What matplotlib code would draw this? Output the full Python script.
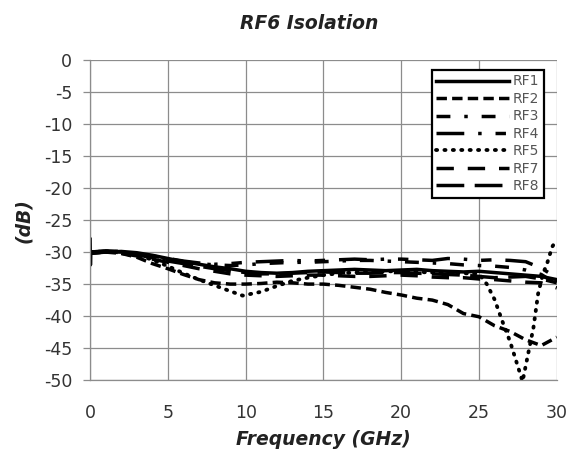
import matplotlib.pyplot as plt

freq = [0, 1, 2, 3, 4, 5, 6, 7, 8, 9, 10, 11, 12, 13, 14, 15,
        16, 17, 18, 19, 20, 21, 22, 23, 24, 25, 26, 27, 28, 29, 30]

# RF1 has a short spike at the very first points
freq_rf1 = [0, 0.02, 0.04] + freq[1:]
rf1 = [-28.0, -32.0, -30.2, -30.0, -29.9, -30.1, -30.5, -31.0, -31.5, -31.9, -32.3, -32.6,
       -33.0, -33.2, -33.3, -33.2, -33.0, -32.9, -32.8, -32.7, -32.8, -32.9, -32.8,
       -32.7, -32.9, -33.0, -33.1, -33.0, -33.2, -33.4, -33.6, -33.8, -34.3]
rf2 = [-30.2, -30.0, -30.2, -30.8, -31.8, -32.6, -33.5, -34.3, -34.8, -35.0, -35.0,
       -34.9, -34.7, -34.8, -35.0, -35.0, -35.2, -35.5, -35.8, -36.3, -36.7, -37.2,
       -37.5, -38.2, -39.6, -40.1, -41.5, -42.4, -43.7, -44.6, -43.3]
rf3 = [-30.0, -29.9, -30.0, -30.3, -30.7, -31.1, -31.5, -31.8, -32.0, -32.1, -32.0,
       -31.8, -31.7, -31.6, -31.6, -31.5, -31.4, -31.3, -31.3, -31.4, -31.5, -31.6,
       -31.7, -31.8, -32.0, -32.1, -32.2, -32.4, -32.8, -33.5, -35.0]
rf4 = [-30.0, -29.8, -29.9, -30.2, -30.6, -31.0, -31.4, -31.7, -31.9, -31.8, -31.6,
       -31.5, -31.4, -31.3, -31.4, -31.3, -31.2, -31.1, -31.2, -31.1, -31.1, -31.2,
       -31.3, -31.0, -31.1, -31.3, -31.2, -31.3, -31.5, -32.5, -34.0]
freq_rf5 = [0, 1, 2, 3, 4, 5, 6, 7, 8, 9, 9.8, 11, 12, 13, 14, 15, 16, 17, 18, 19,
            20, 21, 22, 23, 24, 25, 25.5, 26, 26.5, 27, 27.4, 27.8, 28.1, 28.5, 28.8,
            29.1, 29.4, 29.7, 30]
rf5 = [-30.0, -29.9, -30.0, -30.4, -31.2, -32.2, -33.3, -34.3, -35.2, -36.1, -36.8,
       -36.2, -35.3, -34.5, -34.0, -33.6, -33.3, -33.2, -33.1, -33.0, -33.0, -33.1,
       -33.2, -33.2, -33.3, -33.4, -35.0, -37.4, -40.8, -44.0, -47.1, -50.2, -46.6,
       -41.8, -36.5, -33.5, -31.6, -29.2, -28.0]
rf7 = [-30.1, -30.0, -30.2, -30.6, -31.1, -31.6, -32.1, -32.6, -33.0, -33.4, -33.6,
       -33.7, -33.8, -33.7, -33.6, -33.6, -33.7, -33.8, -33.8, -33.7, -33.6, -33.7,
       -33.9, -34.0, -34.0, -34.2, -34.3, -34.5, -34.7, -34.8, -35.6]
rf8 = [-30.0, -29.9, -30.1, -30.4, -30.9, -31.4, -31.8, -32.2, -32.6, -32.9, -33.2,
       -33.4, -33.4, -33.3, -33.2, -33.1, -33.2, -33.3, -33.3, -33.2, -33.2, -33.3,
       -33.4, -33.5, -33.6, -33.8, -34.0, -33.9, -33.8, -34.2, -34.8]

yticks = list(range(0, -51, -5))
xticks = list(range(0, 31, 5))

plt.rcParams['font.family'] = ['DejaVu Sans']
plt.rcParams['axes.unicode_minus'] = False

fig = plt.figure(figsize=(5.74, 4.58), dpi=100)
ax = fig.add_axes([0.157, 0.170, 0.813, 0.699])

lw = 2.5
ax.plot(freq_rf1, rf1, color='black', lw=lw, ls='-', label='RF1')
ax.plot(freq, rf2, color='black', lw=lw, ls=(0, (3, 1.5)), label='RF2')
ax.plot(freq, rf3, color='black', lw=lw, ls=(0, (4, 4, 1, 4)), label='RF3')
ax.plot(freq, rf4, color='black', lw=lw, ls=(0, (8, 4, 1, 4, 3, 4)), label='RF4')
ax.plot(freq_rf5, rf5, color='black', lw=lw * 1.1, ls=(0, (0.3, 1.9)), label='RF5',
        dash_capstyle='round')
ax.plot(freq, rf7, color='black', lw=lw, ls=(0, (5, 4)), label='RF7')
ax.plot(freq, rf8, color='black', lw=lw, ls=(0, (8, 3)), label='RF8')

ax.set_xlim(0, 30)
ax.set_ylim(-50, 0)
ax.set_xticks(xticks)
ax.set_yticks(yticks)
ax.grid(True, color='#8c8c8c', lw=0.9)
for side in ['top', 'right']:
    ax.spines[side].set_visible(False)
for side in ['left', 'bottom']:
    ax.spines[side].set_color('#8c8c8c')
    ax.spines[side].set_linewidth(0.9)
ax.tick_params(axis='y', length=5, width=0.9, color='#8c8c8c', labelsize=12.5,
               pad=8, labelcolor='#333333')
ax.tick_params(axis='x', length=0, labelsize=12.5, pad=17, labelcolor='#333333')

ax.set_title('RF6 Isolation', fontsize=13.5, fontweight='bold', style='italic',
             color='#222222', pad=22, x=0.47)
ax.set_xlabel('Frequency (GHz)', fontsize=13.5, fontweight='bold', style='italic',
              color='#222222', labelpad=6)
ax.set_ylabel('(dB)', fontsize=13.5, fontweight='bold', style='italic',
              color='#222222', labelpad=8)

leg = ax.legend(loc='upper right', bbox_to_anchor=(0.973, 0.97), fontsize=10,
                handlelength=5.2, handletextpad=0.3, labelspacing=0.25,
                borderpad=0.35, borderaxespad=0, fancybox=False, framealpha=1,
                labelcolor='#555555')
leg.get_frame().set_edgecolor('black')
leg.get_frame().set_linewidth(1.6)

fig.savefig('out.png', dpi=100)
